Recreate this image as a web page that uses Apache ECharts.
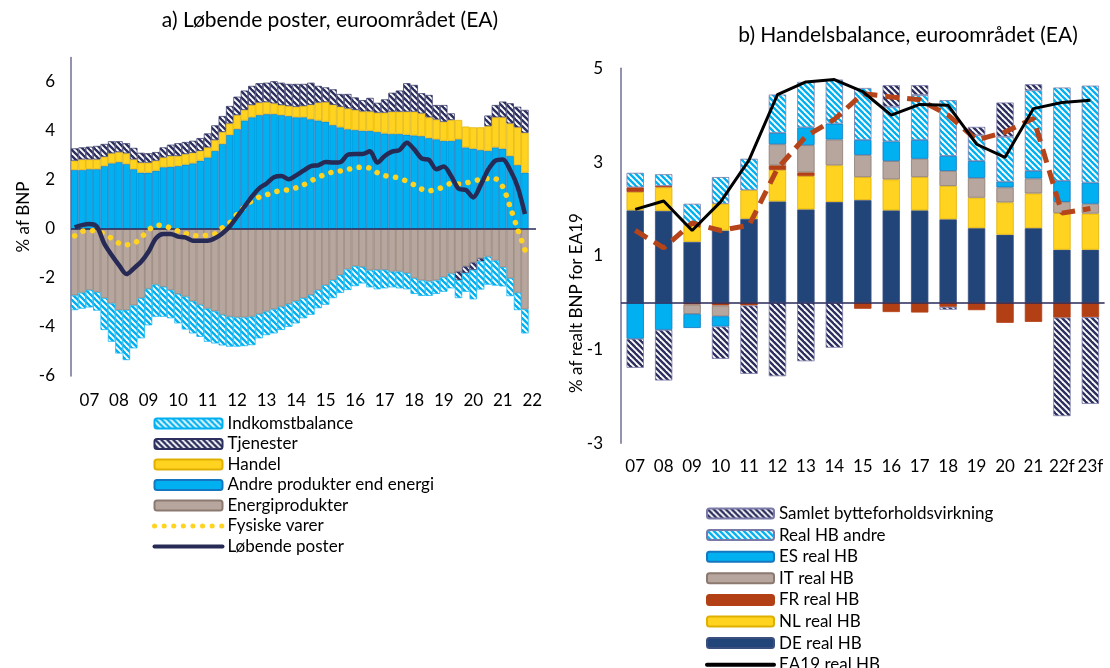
<!DOCTYPE html>
<html>
<head>
<meta charset="utf-8">
<script src="https://cdn.jsdelivr.net/npm/echarts@6/dist/echarts.min.js"></script>
<style>
  html, body { margin: 0; padding: 0; background: #fff; }
  #chart { width: 1110px; height: 668px; }
</style>
</head>
<body>
<div id="chart"></div>
<script>
// ---- a) Løbende poster, kvartalsvis (% af BNP)
const quarters = [];
for (let i = 0; i < 63; i++) {
  const y = 2006 + Math.floor((i + 2) / 4);
  quarters.push(y + 'K' + (((i + 2) % 4) + 1));
}
const andre = [2.41,2.41,2.44,2.44,2.57,2.68,2.73,2.65,2.44,2.30, 2.30,2.38,2.52,2.54,2.57,2.63,2.68,2.79,2.92,3.19,
  3.47,3.84,4.08,4.43,4.56,4.65,4.69,4.69,4.65,4.61, 4.56,4.56,4.48,4.43,4.38,4.24,4.15,4.07,4.04,4.01,
  4.01,3.96,3.90,3.88,3.88,3.85,3.82,3.79,3.71,3.66, 3.60,3.60,3.66,3.33,3.28,3.22,3.19,3.33,3.28,2.98, 2.61,2.30];
const handel = [0.38,0.43,0.40,0.40,0.38,0.41,0.41,0.44,0.40,0.41, 0.41,0.41,0.40,0.44,0.41,0.43,0.43,0.40,0.41,0.44,
  0.49,0.47,0.57,0.43,0.50,0.51,0.49,0.44,0.41,0.41, 0.43,0.46,0.59,0.73,0.80,0.83,0.84,0.85,0.82,0.79,
  0.79,0.79,0.85,0.91,0.91,0.94,0.97,0.93,0.85,0.81, 0.78,0.85,0.79,0.85,0.87,0.93,1.01,1.23,1.28,1.33, 1.54,1.63];
const tjenester = [0.50,0.49,0.52,0.55,0.52,0.49,0.44,0.41,0.47,0.40, 0.38,0.35,0.41,0.46,0.52,0.49,0.49,0.52,0.57,0.60,
  0.65,0.71,0.75,0.79,0.78,0.79,0.79,0.90,0.91,0.90, 0.93,0.90,0.90,0.68,0.60,0.63,0.52,0.59,0.51,0.46,
  0.55,0.40,0.54,0.77,0.86,1.16,1.09,0.82,0.91,0.59, 0.68,0.27,-0.35,-0.27,-0.30,-0.12,0.43,0.50,0.64,0.82, 0.84,0.93];
const energi = [-2.71,-2.60,-2.49,-2.58,-2.82,-3.04,-3.31,-3.31,-3.12,-2.82, -2.44,-2.27,-2.36,-2.49,-2.65,-2.76,-2.95,-3.09,-3.25,-3.36,
  -3.50,-3.58,-3.61,-3.61,-3.58,-3.47,-3.37,-3.28,-3.17,-3.06, -2.95,-2.82,-2.69,-2.49,-2.29,-2.09,-1.88,-1.65,-1.52,-1.55,
  -1.69,-1.67,-1.67,-1.74,-1.74,-1.80,-2.01,-2.10,-2.14,-2.10, -1.97,-1.82,-1.74,-1.53,-1.37,-1.20,-1.13,-1.29,-1.56,-2.01, -2.60,-3.28];
const indkomst = [-0.60,-0.65,-0.71,-0.75,-1.30,-1.56,-1.77,-2.04,-1.75,-1.64, -1.49,-1.31,-1.22,-1.15,-1.20,-1.34,-1.31,-1.31,-1.35,-1.31,
  -1.25,-1.22,-1.19,-1.17,-1.16,-0.99,-0.96,-0.98,-0.95,-0.93, -0.90,-0.82,-0.81,-0.74,-0.80,-0.73,-0.73,-0.84,-0.81,-0.67,
  -0.69,-0.79,-0.75,-0.64,-0.68,-0.66,-0.64,-0.63,-0.59,-0.55, -0.59,-0.60,-0.73,-0.76,-1.20,-1.15,-1.14,-1.02,-0.78,-0.73, -0.71,-0.98];
const lobende = [0.07,0.16,0.20,0.10,-0.59,-1.06,-1.47,-1.84,-1.61,-1.34, -0.93,-0.38,-0.20,-0.20,-0.31,-0.34,-0.48,-0.48,-0.48,-0.38,
  -0.18,0.10,0.50,0.91,1.32,1.66,1.86,2.11,2.16,2.03, 2.19,2.38,2.57,2.60,2.73,2.71,2.73,3.03,3.06,3.06,
  3.17,2.71,2.98,3.16,3.22,3.52,3.25,2.88,2.82,2.44, 2.55,2.16,1.65,1.59,1.29,1.79,2.41,2.79,2.84,2.41, 1.73,0.61];
const fysiske = [-0.28,-0.10,-0.06,-0.10,-0.20,-0.38,-0.58,-0.64,-0.60,-0.35, -0.05,0.15,0.15,0.03,-0.08,-0.18,-0.26,-0.29,-0.25,-0.20,
  0.05,0.25,0.60,0.90,1.15,1.30,1.40,1.50,1.58,1.60, 1.68,1.80,1.97,2.10,2.25,2.32,2.37,2.43,2.50,2.52,
  2.48,2.30,2.18,2.14,2.07,1.95,1.80,1.63,1.56,1.62, 1.72,1.86,1.84,1.88,1.95,2.03,2.06,2.05,1.72,0.90, 0.00,-0.85];

// ---- b) Handelsbalance, årlig (% af realt BNP for EA19)
const years = ['07','08','09','10','11','12','13','14','15','16','17','18','19','20','21','22f','23f'];
const deHB = [1.97,1.96,1.30,1.54,1.79,2.16,1.99,2.15,2.19,1.97,1.97,1.78,1.59,1.45,1.59,1.13,1.13];
const nlHB = [0.39,0.50,0.35,0.57,0.61,0.67,0.71,0.78,0.49,0.66,0.71,0.71,0.65,0.69,0.74,0.78,0.77];
const frHB = [0.10,0.03,-0.04,-0.06,-0.06,0.10,0.08,0,-0.13,-0.20,-0.21,-0.09,-0.16,-0.43,-0.41,-0.32,-0.31];
const itHB = [0,0,-0.20,-0.23,0,0.45,0.58,0.55,0.47,0.39,0.39,0.32,0.42,0.32,0.32,0.24,0.21];
const esHB = [-0.77,-0.58,-0.30,-0.22,0,0.24,0.38,0.34,0.32,0.42,0.40,0.32,0.36,0.12,0.16,0.45,0.45];
const andreHB = [0.31,0.25,0.46,0.57,0.67,0.82,0.97,0.94,1.11,0.74,0.96,1.19,0.55,0.96,1.72,1.99,2.07];
const samletBF = [-0.62,-1.08,0,-0.69,-1.46,-1.57,-1.25,-0.96,0,0.46,0.21,-0.06,0.18,0.73,0.13,-2.10,-1.85];
const ea19HB = [1.99,2.17,1.54,2.15,3.04,4.44,4.71,4.76,4.50,4.00,4.23,4.21,3.38,3.10,4.14,4.27,4.32];
const ea19Dashed = [1.54,1.17,1.70,1.54,1.65,2.86,3.55,3.91,4.46,4.39,4.33,4.00,3.47,3.64,3.93,1.91,2.01];

const FONT = 'Lato';

function stripes(fg) {
  const c = document.createElement('canvas');
  c.width = 6; c.height = 6;
  const g = c.getContext('2d');
  g.fillStyle = '#fff';
  g.fillRect(0, 0, 6, 6);
  g.strokeStyle = fg;
  g.lineWidth = 2.4;
  for (const k of [-12, -6, 0, 6, 12]) {
    g.beginPath();
    g.moveTo(k - 2, -2);
    g.lineTo(k + 8, 8);
    g.stroke();
  }
  return { image: c, repeat: 'repeat' };
}
const navyStripe = stripes('#2d2f5e');
const blueStripe = stripes('#00b0f0');

const noZero = arr => arr.map(v => (v === 0 ? '-' : v));

function barL(name, data, color, border) {
  return {
    name, type: 'bar', xAxisIndex: 0, yAxisIndex: 0, stack: 'a',
    barCategoryGap: '0%', data: noZero(data),
    itemStyle: { color, borderColor: border, borderWidth: 0.7 }
  };
}
function barR(name, data, color, border) {
  return {
    name, type: 'bar', xAxisIndex: 1, yAxisIndex: 1, stack: 'b',
    barCategoryGap: '39%', data: noZero(data),
    itemStyle: { color, borderColor: border, borderWidth: 0.8 }
  };
}

const zeroLine = {
  silent: true, symbol: 'none', label: { show: false },
  lineStyle: { color: '#262a5a', width: 1.5, type: 'solid' },
  data: [{ yAxis: 0 }]
};

const chart = echarts.init(document.getElementById('chart'));

const andreSeries = barL('Andre produkter end energi', andre, '#00b0f0', '#1477bf');
andreSeries.markLine = zeroLine;
const deSeries = barR('DE real HB', deHB, '#214579', '#3a4f80');
deSeries.markLine = zeroLine;

// line legend entries without the marker dot
const lineItem = (name, lineStyle) => ({ name, itemStyle: { opacity: 0 }, lineStyle });

chart.setOption({
  animation: false,
  textStyle: { fontFamily: FONT },
  grid: [
    { left: 71, top: 57.5, width: 465, height: 318.5 },
    { left: 621, top: 68.3, width: 483.6, height: 375 }
  ],
  xAxis: [
    {
      type: 'category', gridIndex: 0, data: quarters,
      axisLine: { show: false }, axisTick: { show: false },
      axisLabel: {
        interval: i => i % 4 === 2,
        formatter: v => v.slice(2, 4),
        color: '#000', fontSize: 17, margin: 16, fontFamily: FONT
      }
    },
    {
      type: 'category', gridIndex: 1, data: years,
      axisLine: { show: false }, axisTick: { show: false },
      axisLabel: { interval: 0, color: '#000', fontSize: 17, margin: 15, fontFamily: FONT }
    }
  ],
  yAxis: [
    {
      type: 'value', gridIndex: 0, min: -6, max: 7, interval: 2,
      axisLine: { show: true, lineStyle: { color: '#6f6f95', width: 1.5 } },
      axisTick: { show: false }, splitLine: { show: false },
      axisLabel: { color: '#000', fontSize: 17, margin: 16, showMaxLabel: false, fontFamily: FONT }
    },
    {
      type: 'value', gridIndex: 1, min: -3, max: 5, interval: 2,
      axisLine: { show: true, lineStyle: { color: '#6f6f95', width: 1.5 } },
      axisTick: { show: false }, splitLine: { show: false },
      axisLabel: { color: '#000', fontSize: 17, margin: 18, fontFamily: FONT }
    }
  ],
  legend: [
    {
      orient: 'vertical', left: 147, top: 410, height: 250, itemWidth: 68, itemHeight: 10, itemGap: 3.5,
      textStyle: { fontSize: 17, color: '#000', fontFamily: FONT },
      data: ['Indkomstbalance', 'Tjenester', 'Handel', 'Andre produkter end energi', 'Energiprodukter',
        lineItem('Fysiske varer', { width: 5, type: [0.1, 9.5], cap: 'round' }),
        lineItem('Løbende poster', { width: 4, cap: 'round' })]
    },
    {
      orient: 'vertical', left: 700, top: 500, height: 300, itemWidth: 67, itemHeight: 10, itemGap: 4.6,
      textStyle: { fontSize: 17, color: '#000', fontFamily: FONT },
      data: ['Samlet bytteforholdsvirkning', 'Real HB andre', 'ES real HB', 'IT real HB',
        'FR real HB', 'NL real HB', 'DE real HB', lineItem('EA19 real HB', { width: 4, cap: 'round' })]
    }
  ],
  graphic: [
    { type: 'text', x: 330, y: 20, style: { text: 'a) Løbende poster, euroområdet (EA)', font: '21px ' + FONT, fill: '#000', textAlign: 'center', textVerticalAlign: 'middle' } },
    { type: 'text', x: 908, y: 35, style: { text: 'b) Handelsbalance, euroområdet (EA)', font: '21px ' + FONT, fill: '#000', textAlign: 'center', textVerticalAlign: 'middle' } },
    { type: 'text', x: 24, y: 217, rotation: Math.PI / 2, style: { text: '% af BNP', font: '17px ' + FONT, fill: '#000', textAlign: 'center', textVerticalAlign: 'middle' } },
    { type: 'text', x: 577, y: 303, rotation: Math.PI / 2, style: { text: '% af realt BNP for EA19', font: '17px ' + FONT, fill: '#000', textAlign: 'center', textVerticalAlign: 'middle' } }
  ],
  series: [
    andreSeries,
    barL('Energiprodukter', energi, '#b6a69d', '#8c7a70'),
    barL('Handel', handel, '#ffd320', '#e0b000'),
    barL('Tjenester', tjenester, navyStripe, '#2d2f5e'),
    barL('Indkomstbalance', indkomst, blueStripe, '#00b0f0'),
    {
      name: 'Fysiske varer', type: 'line', xAxisIndex: 0, yAxisIndex: 0, data: fysiske,
      symbol: 'none', smooth: 0.3, z: 5,
      itemStyle: { color: '#ffd320' },
      lineStyle: { color: '#ffd320', width: 5.5, type: [0.1, 9.5], cap: 'round' }
    },
    {
      name: 'Løbende poster', type: 'line', xAxisIndex: 0, yAxisIndex: 0, data: lobende,
      symbol: 'none', smooth: 0.3, z: 6,
      itemStyle: { color: '#262a55' },
      lineStyle: { color: '#262a55', width: 4.5 }
    },
    deSeries,
    barR('NL real HB', nlHB, '#ffd320', '#e0b000'),
    barR('FR real HB', frHB, '#b33f14', '#b33f14'),
    barR('IT real HB', itHB, '#b6a69d', '#8c7a70'),
    barR('ES real HB', esHB, '#00b0f0', '#1477bf'),
    barR('Real HB andre', andreHB, blueStripe, '#7a7aa8'),
    barR('Samlet bytteforholdsvirkning', samletBF, navyStripe, '#7a7aa8'),
    {
      name: 'EA19 nominel', type: 'line', xAxisIndex: 1, yAxisIndex: 1, data: ea19Dashed,
      symbol: 'none', z: 5,
      itemStyle: { color: '#b5441a' },
      lineStyle: { color: '#b5441a', width: 5, type: [14, 8] }
    },
    {
      name: 'EA19 real HB', type: 'line', xAxisIndex: 1, yAxisIndex: 1, data: ea19HB,
      symbol: 'none', z: 6,
      itemStyle: { color: '#000' },
      lineStyle: { color: '#000', width: 3 }
    }
  ]
});
</script>
</body>
</html>
